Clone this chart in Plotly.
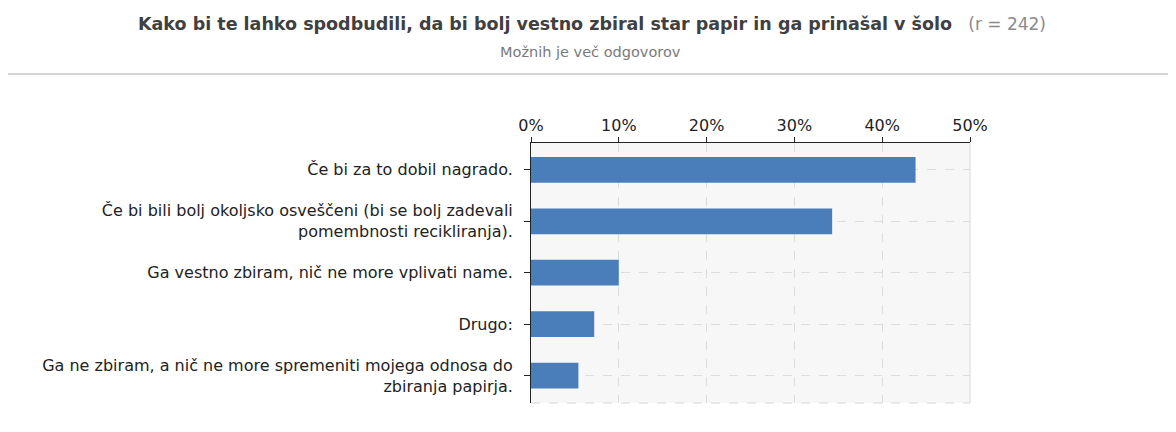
import plotly.graph_objects as go

categories = [
    "Če bi za to dobil nagrado.",
    "Če bi bili bolj okoljsko osveščeni (bi se bolj zadevali<br>pomembnosti recikliranja).",
    "Ga vestno zbiram, nič ne more vplivati name.",
    "Drugo:",
    "Ga ne zbiram, a nič ne more spremeniti mojega odnosa do<br>zbiranja papirja.",
]
values = [43.8, 34.3, 10.0, 7.2, 5.4]
tick_vals = [0, 10, 20, 30, 40, 50]
tick_text = ["0%", "10%", "20%", "30%", "40%", "50%"]

OFF = 8  # page body margin
W, H = 1176 - OFF, 432 - OFF
# plot area in page pixels
PL, PR, PT, PB = 531, 970, 143, 403
ml, mr, mt, mb = PL - OFF, W - (PR - OFF), PT - OFF, H - (PB - OFF)

fig = go.Figure()
fig.add_trace(go.Bar(
    x=values, y=categories, orientation="h",
    marker=dict(color="#4a7ebb", line=dict(width=0)),
    width=0.5, hoverinfo="x+y",
))

fig.update_layout(
    width=W, height=H,
    margin=dict(l=ml, r=mr, t=mt, b=mb, pad=0),
    paper_bgcolor="white",
    plot_bgcolor="#f7f7f7",
    showlegend=False,
    font=dict(family="DejaVu Sans", size=16, color="#222"),
)
fig.update_xaxes(
    side="top", range=[0, 50], tickvals=tick_vals, ticktext=tick_text,
    showline=True, linecolor="#222", linewidth=1,
    ticks="outside", ticklen=5, tickcolor="#222",
    showgrid=True, gridcolor="#dddddd", griddash="dash", gridwidth=1,
    zeroline=False, fixedrange=True,
    tickfont=dict(family="DejaVu Sans", size=16, color="#222"),
)
fig.update_yaxes(
    range=[4.53, -0.52],
    showline=True, linecolor="#222", linewidth=1,
    ticks="outside", ticklen=6, tickcolor="#222",
    ticklabelstandoff=8,
    showgrid=True, gridcolor="#dddddd", griddash="dash", gridwidth=1,
    zeroline=False, fixedrange=True,
    tickfont=dict(family="DejaVu Sans", size=16, color="#222"),
)

pw = W - ml - mr
ph = H - mt - mb
def px_x(p):
    return (p - OFF - ml) / pw
def px_y(p):
    return 1 - (p - OFF - mt) / ph

# right and bottom light borders
fig.add_shape(type="line", xref="paper", yref="paper", x0=1, x1=1, y0=0, y1=1,
              line=dict(color="#d8d8d8", width=1))
fig.add_shape(type="line", xref="paper", yref="paper", x0=0, x1=1, y0=0, y1=0,
              line=dict(color="#d8d8d8", width=1, dash="dash"))
# separator under title
fig.add_shape(type="line", xref="paper", yref="paper", x0=px_x(OFF), x1=px_x(1176),
              y0=px_y(74), y1=px_y(74), line=dict(color="#d4d4d4", width=2))

fig.add_annotation(
    xref="paper", yref="paper", x=px_x(592), y=px_y(24), xanchor="center", yanchor="middle",
    text="<b>Kako bi te lahko spodbudili, da bi bolj vestno zbiral star papir in ga prinašal v šolo</b>"
         "<span style='color:#8a8a8a; font-size:17px'>   (r = 242)</span>",
    showarrow=False, font=dict(family="DejaVu Sans", size=17.5, color="#404040"),
)
fig.add_annotation(
    xref="paper", yref="paper", x=px_x(590), y=px_y(52), xanchor="center", yanchor="middle",
    text="Možnih je več odgovorov",
    showarrow=False, font=dict(family="DejaVu Sans", size=14.5, color="#7a7a7a"),
)

fig.write_html("out.html")
